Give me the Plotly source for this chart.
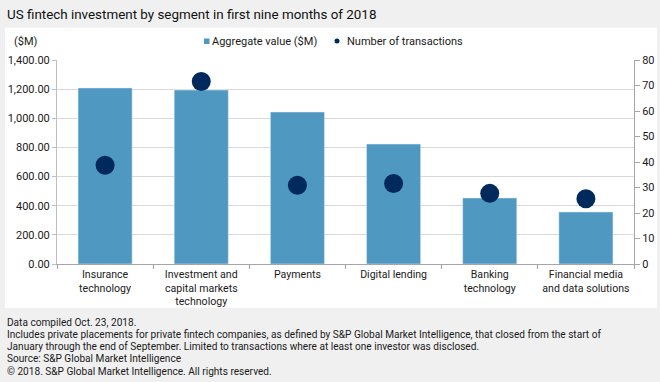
import plotly.graph_objects as go

categories = ["Insurance<br>technology", "Investment and<br>capital markets<br>technology", "Payments",
              "Digital lending", "Banking<br>technology", "Financial media<br>and data solutions"]
aggregate_value = [1208, 1194, 1043, 823, 453, 357]
num_transactions = [38.7, 71.6, 30.9, 31.6, 27.7, 25.6]
left_ticks = [0, 200, 400, 600, 800, 1000, 1200, 1400]
right_ticks = [0, 10, 20, 30, 40, 50, 60, 70, 80]

FONT = "Roboto, sans-serif"
W, H = 660, 382
L, R, T, B = 57, 26, 60, 118
PW, PH = W - L - R, H - T - B

def px(x):
    return (x - L) / PW

def py(y):
    return (H - B - y) / PH

BAR = "#4e98c2"
DOT = "#002a5c"
TXT = "#1a1a1a"

fig = go.Figure()
fig.add_trace(go.Bar(x=categories, y=aggregate_value, marker_color=BAR, name="Aggregate value ($M)",
                     showlegend=False))
fig.add_trace(go.Scatter(x=categories, y=num_transactions, mode="markers", yaxis="y2",
                         marker=dict(color=DOT, size=19), name="Number of transactions", showlegend=False))

shapes = [
    dict(type="rect", xref="paper", yref="paper", x0=px(5), x1=px(657), y0=py(308), y1=py(27.7),
         fillcolor="white", line_width=0, layer="below"),
    dict(type="rect", xref="paper", yref="paper", x0=px(204), x1=px(209.5), y0=py(44), y1=py(38.5),
         fillcolor=BAR, line_width=0),
    dict(type="circle", xref="paper", yref="paper", x0=px(334.5), x1=px(339.5), y0=py(43.5), y1=py(38.5),
         fillcolor=DOT, line_width=0),
]

footer = ["Data compiled Oct. 23, 2018.",
          "Includes private placements for private fintech companies, as defined by S&P Global Market Intelligence, that closed from the start of",
          "January through the end of September. Limited to transactions where at least one investor was disclosed.",
          "Source: S&P Global Market Intelligence",
          "\u00a9 2018. S&P Global Market Intelligence. All rights reserved."]

annotations = [
    dict(text="US fintech investment by segment in first nine months of 2018", x=px(5), y=py(14.5),
         xanchor="left", yanchor="middle", showarrow=False, font=dict(size=13.4, color="#111")),
    dict(text="($M)", x=px(12), y=py(41), xanchor="left", yanchor="middle", showarrow=False,
         font=dict(size=11, color=TXT)),
    dict(text="Aggregate value ($M)", x=px(210), y=py(41), xanchor="left", yanchor="middle", showarrow=False,
         font=dict(size=11, color=TXT)),
    dict(text="Number of transactions", x=px(345), y=py(41), xanchor="left", yanchor="middle", showarrow=False,
         font=dict(size=11, color=TXT)),
]
for i, line in enumerate(footer):
    annotations.append(dict(text=line, x=px(5), y=py(322 + i * 12.3), xanchor="left", yanchor="middle",
                            showarrow=False, font=dict(size=10.1, color=TXT)))
for a in annotations:
    a["xref"] = "paper"
    a["yref"] = "paper"

fig.update_layout(
    width=W, height=H,
    margin=dict(l=L, r=R, t=T, b=B),
    paper_bgcolor="#f0f0f0", plot_bgcolor="white",
    font=dict(family=FONT, size=11, color=TXT),
    bargap=0.4375,
    shapes=shapes, annotations=annotations,
    xaxis=dict(showline=True, linecolor="#a6a6a6", ticks="outside", tickson="boundaries", ticklen=4,
               tickcolor="#a6a6a6", tickfont=dict(size=10.6), showgrid=False, tickangle=0, automargin=False),
    yaxis=dict(range=[0, 1400], tickvals=left_ticks, tickformat=",.2f", showline=True, linecolor="#bfbfbf",
               ticks="outside", ticklen=4, tickcolor="#bfbfbf", gridcolor="#d9d9d9", tickfont=dict(size=11),
               zeroline=False, automargin=False),
    yaxis2=dict(range=[0, 80], tickvals=right_ticks, overlaying="y", side="right", showline=True,
                linecolor="#a6a6a6", ticks="outside", ticklen=5, tickcolor="#a6a6a6", showgrid=False,
                tickfont=dict(size=11), zeroline=False, automargin=False),
    showlegend=False,
)
fig.write_html("out.html", config={"displayModeBar": False},
               post_script="document.body.style.margin='0px';document.body.style.overflow='hidden';")
